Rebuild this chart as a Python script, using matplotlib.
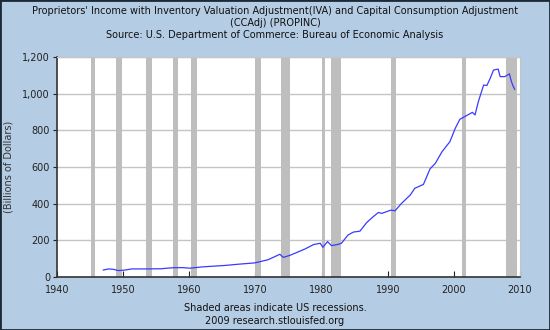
import matplotlib
matplotlib.use('Agg')
import matplotlib.pyplot as plt
from matplotlib.patches import Rectangle

# PROPINC, billions of dollars
years = [1947.0, 1947.8, 1948.5, 1949.3, 1950.3, 1951.3, 1953.5, 1955.8, 1956.3,
         1957.8, 1959.1, 1960.1, 1961.9, 1963.6, 1965.4, 1967.5, 1969.9, 1971.9,
         1973.7, 1974.2, 1975.2, 1976.2, 1977.5, 1978.8, 1979.8, 1980.2, 1980.9,
         1981.5, 1982.5, 1983.0, 1984.0, 1984.8, 1985.8, 1986.8, 1987.8, 1988.6,
         1989.1, 1990.5, 1991.1, 1992.1, 1993.4, 1994.1, 1995.4, 1996.4, 1997.2,
         1998.2, 1999.4, 2000.2, 2000.9, 2001.9, 2002.8, 2003.2, 2003.7, 2004.5,
         2005.0, 2005.5, 2006.0, 2006.7, 2007.0, 2007.7, 2008.4, 2008.7, 2009.0,
         2009.2]
income = [38, 44, 42, 35, 38, 44, 44, 45, 47,
          51, 51, 48, 55, 59, 63, 70, 77, 94,
          124, 107, 118, 133, 153, 177, 184, 162, 193,
          171, 178, 184, 229, 245, 250, 296, 329, 352,
          347, 365, 361, 402, 447, 484, 505, 590, 620,
          683, 738, 810, 860, 880, 898, 884, 956, 1047,
          1045, 1084, 1129, 1134, 1093, 1093, 1108, 1066, 1038,
          1024]

# US recessions (start, end)
recessions = [(1945.1, 1945.8), (1948.9, 1949.8), (1953.5, 1954.4),
              (1957.6, 1958.3), (1960.3, 1961.1), (1969.9, 1970.9),
              (1973.9, 1975.2), (1980.0, 1980.5), (1981.5, 1982.9),
              (1990.5, 1991.2), (2001.2, 2001.9), (2007.9, 2009.6)]

xticks = [1940, 1950, 1960, 1970, 1980, 1990, 2000, 2010]
yticks = [0, 200, 400, 600, 800, 1000, 1200]
ylabels = ['0', '200', '400', '600', '800', '1,000', '1,200']

bg = '#b4cce4'
fs = 7

fig = plt.figure(figsize=(5.5, 3.3), dpi=100, facecolor=bg)
fig.patches.append(Rectangle((0, 0), 1, 1, transform=fig.transFigure,
                             fill=False, edgecolor='#1c2a38', linewidth=2))

ax = fig.add_axes([57 / 550, 1 - 277 / 330, 463 / 550, 220 / 330])
ax.set_facecolor('white')

for y in yticks[1:]:
    ax.axhline(y, color='#c4c4c4', linewidth=1, zorder=1)
for s, e in recessions:
    ax.axvspan(s, e, color='#bebebe', linewidth=0, zorder=2)

ax.plot(years, income, color='#3a3aff', linewidth=0.9, zorder=3)

ax.set_xlim(1940, 2010)
ax.set_ylim(0, 1200)
ax.set_xticks(xticks)
ax.set_yticks(yticks)
ax.set_yticklabels(ylabels)
ax.tick_params(axis='x', direction='in', length=4, labelsize=fs, pad=6, colors='#222222')
ax.tick_params(axis='y', direction='out', length=3, labelsize=fs, pad=2, colors='#222222')

for side in ['top', 'right']:
    ax.spines[side].set_color('#c4c4c4')
for side in ['left', 'bottom']:
    ax.spines[side].set_color('#333333')
    ax.spines[side].set_linewidth(1.2)

ax.set_ylabel('(Billions of Dollars)', fontsize=fs, color='#333333')
ax.yaxis.set_label_coords(-0.093, 0.5)

fig.text(0.5, 1 - 10.5 / 330,
         "Proprietors' Income with Inventory Valuation Adjustment(IVA) and Capital Consumption Adjustment",
         ha='center', va='center', fontsize=fs, color='#111111')
fig.text(0.5, 1 - 23 / 330, '(CCAdj) (PROPINC)',
         ha='center', va='center', fontsize=fs, color='#111111')
fig.text(0.5, 1 - 35.5 / 330, 'Source: U.S. Department of Commerce: Bureau of Economic Analysis',
         ha='center', va='center', fontsize=fs, color='#111111')
fig.text(0.5, 1 - 308 / 330, 'Shaded areas indicate US recessions.',
         ha='center', va='center', fontsize=fs, color='#111111')
fig.text(0.5, 1 - 321 / 330, '2009 research.stlouisfed.org',
         ha='center', va='center', fontsize=fs, color='#111111')

fig.savefig('out.png', dpi=100, facecolor=bg)
